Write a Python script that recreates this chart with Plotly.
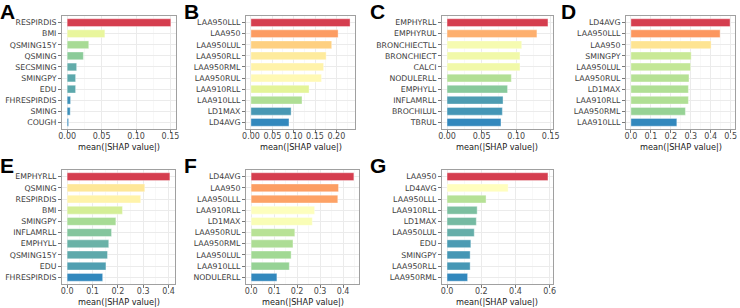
import plotly.graph_objects as go

# ---------------- data ----------------
A_FEATURES = ["RESPIRDIS", "BMI", "QSMING15Y", "QSMING", "SECSMING", "SMINGPY", "EDU", "FHRESPIRDIS", "SMING", "COUGH"]
A_VALUES = [0.1505, 0.0547, 0.0313, 0.0235, 0.0137, 0.0122, 0.0122, 0.0049, 0.0044, 0.0020]

B_FEATURES = ["LAA950LLL", "LAA950", "LAA950LUL", "LAA950RLL", "LAA950RML", "LAA950RUL", "LAA910RLL", "LAA910LLL", "LD1MAX", "LD4AVG"]
B_VALUES = [0.232, 0.204, 0.189, 0.176, 0.170, 0.165, 0.136, 0.1195, 0.094, 0.089]

C_FEATURES = ["EMPHYRLL", "EMPHYRUL", "BRONCHIECTLL", "BRONCHIECT", "CALCI", "NODULERLL", "EMPHYLL", "INFLAMRLL", "BROCHILUL", "TBRUL"]
C_VALUES = [0.146, 0.130, 0.108, 0.1055, 0.1055, 0.093, 0.0875, 0.081, 0.080, 0.078]

D_FEATURES = ["LD4AVG", "LAA950LLL", "LAA950", "SMINGPY", "LAA950LUL", "LAA950RUL", "LD1MAX", "LAA910RLL", "LAA950RML", "LAA910LLL"]
D_VALUES = [0.497, 0.447, 0.402, 0.302, 0.299, 0.291, 0.288, 0.288, 0.273, 0.230]

E_FEATURES = ["EMPHYRLL", "QSMING", "RESPIRDIS", "BMI", "SMINGPY", "INFLAMRLL", "EMPHYLL", "QSMING15Y", "EDU", "FHRESPIRDIS"]
E_VALUES = [0.405, 0.306, 0.290, 0.218, 0.192, 0.175, 0.164, 0.159, 0.153, 0.140]

F_FEATURES = ["LD4AVG", "LAA950", "LAA950LLL", "LAA910RLL", "LD1MAX", "LAA950RUL", "LAA950RML", "LAA950LUL", "LAA910LLL", "NODULERLL"]
F_VALUES = [0.447, 0.380, 0.377, 0.276, 0.266, 0.190, 0.182, 0.174, 0.166, 0.112]

G_FEATURES = ["LAA950", "LD4AVG", "LAA950LLL", "LAA910RLL", "LD1MAX", "LAA950LUL", "EDU", "SMINGPY", "LAA950RLL", "LAA950RML"]
G_VALUES = [0.590, 0.357, 0.228, 0.176, 0.171, 0.159, 0.139, 0.135, 0.135, 0.120]

PANEL_LABELS = ["A", "B", "C", "D", "E", "F", "G"]
X_DTICKS = [0.05, 0.05, 0.05, 0.1, 0.1, 0.1, 0.2]
X_TICKFORMAT = [".2f", ".2f", ".2f", ".1f", ".1f", ".1f", ".1f"]
X_TITLE = "mean(|SHAP value|)"

# ---------------- style / layout ----------------
W, H = 740, 308
# frames in pixels: (left, right, top, bottom)
FRAMES = [
    (62, 176, 16, 129),
    (246, 355, 16, 129),
    (442, 553, 16, 129),
    (626, 735, 16, 129),
    (62, 175, 170, 284),
    (246, 359, 170, 284),
    (442, 553, 170, 284),
]
TITLE_Y = [146.5, 146.5, 146.5, 146.5, 301.5, 301.5, 301.5]
LETTER_POS = [(-2, 11.5), (182, 11.5), (368, 11.5), (559, 11.5), (-2, 165.5), (182, 165.5), (368, 165.5)]

SPECTRAL_R = [
    [0.0, "#3288BD"], [1 / 6, "#99D594"], [2 / 6, "#E6F598"], [3 / 6, "#FFFFBF"],
    [4 / 6, "#FEE08B"], [5 / 6, "#FC8D59"], [1.0, "#D53E4F"],
]

FEATURES = [A_FEATURES, B_FEATURES, C_FEATURES, D_FEATURES, E_FEATURES, F_FEATURES, G_FEATURES]
VALUES = [A_VALUES, B_VALUES, C_VALUES, D_VALUES, E_VALUES, F_VALUES, G_VALUES]

FONT = "DejaVu Sans"
fig = go.Figure()
annotations = []

for i, (feats, vals) in enumerate(zip(FEATURES, VALUES)):
    n = i + 1
    xa = "x" if n == 1 else f"x{n}"
    ya = "y" if n == 1 else f"y{n}"
    fig.add_trace(go.Bar(
        x=vals, y=feats, orientation="h", xaxis=xa, yaxis=ya,
        marker=dict(color=vals, colorscale=SPECTRAL_R, cmin=min(vals), cmax=max(vals),
                    line=dict(color="rgba(255,255,255,0.6)", width=0.6)),
        showlegend=False, hoverinfo="x+y",
    ))
    l, r, t, b = FRAMES[i]
    vmax = max(vals)
    xkey = "xaxis" if n == 1 else f"xaxis{n}"
    ykey = "yaxis" if n == 1 else f"yaxis{n}"
    dt = X_DTICKS[i]
    fig.layout[xkey] = dict(
        domain=[l / W, r / W], anchor=ya,
        range=[-0.05 * vmax, 1.05 * vmax], dtick=dt, tick0=0, tickformat=X_TICKFORMAT[i],
        tickangle=0, ticklabelstandoff=-4,
        showline=True, mirror=True, linecolor="#A0A0A0", linewidth=1,
        showgrid=True, gridcolor="#EBEBEB", gridwidth=1,
        minor=dict(dtick=dt / 2, tick0=0, showgrid=True, gridcolor="#F4F4F4", gridwidth=0.6),
        ticks="outside", ticklen=3, tickcolor="#555555", tickwidth=0.8,
        tickfont=dict(family=FONT, size=8, color="#454545"),
        zeroline=False, fixedrange=True, automargin=False,
    )
    fig.layout[ykey] = dict(
        domain=[1 - b / H, 1 - t / H], anchor=xa,
        categoryorder="array", categoryarray=feats, range=[len(feats) - 0.4, -0.6],
        showline=True, mirror=True, linecolor="#A0A0A0", linewidth=1,
        showgrid=True, gridcolor="#EBEBEB", gridwidth=1,
        ticks="outside", ticklen=3, tickcolor="#555555", tickwidth=0.8,
        tickfont=dict(family=FONT, size=7.8, color="#404040"),
        zeroline=False, fixedrange=True, automargin=False,
    )
    annotations.append(dict(
        text=X_TITLE, x=(l + r) / 2 / W, y=1 - TITLE_Y[i] / H, xref="paper", yref="paper",
        xanchor="center", yanchor="middle", showarrow=False,
        font=dict(family=FONT, size=8.2, color="#1A1A1A"),
    ))
    lx, ly = LETTER_POS[i]
    annotations.append(dict(
        text=f"<b>{PANEL_LABELS[i]}</b>", x=lx / W, y=1 - ly / H, xref="paper", yref="paper",
        xanchor="left", yanchor="middle", showarrow=False,
        font=dict(family="Liberation Sans", size=21, color="black"),
    ))

fig.update_layout(
    width=W, height=H, margin=dict(l=0, r=0, t=0, b=0),
    paper_bgcolor="white", plot_bgcolor="white",
    bargap=0.3, annotations=annotations,
)

fig.write_html(
    "out.html",
    config={"displayModeBar": False, "staticPlot": True},
    post_script="document.body.style.margin='0px';document.body.style.overflow='hidden';",
)
